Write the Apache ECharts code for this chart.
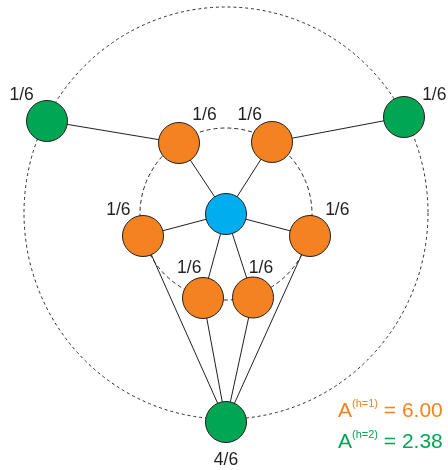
<!DOCTYPE html>
<html>
<head>
<meta charset="utf-8">
<script src="https://cdn.jsdelivr.net/npm/echarts@6/dist/echarts.min.js"></script>
<style>
  html, body { margin: 0; padding: 0; background: #ffffff; }
  #chart { width: 448px; height: 470px; }
</style>
</head>
<body>
<div id="chart"></div>
<script>
// ---- data ----
const nodeNames   = ['root', 'o1', 'o2', 'o3', 'o4', 'o5', 'o6', 'g1', 'g2', 'g3'];
const nodeX       = [0, -47, 46, -83, 84, -23, 27, -179, 178, 0];
const nodeY       = [0, 71, 72, -22, -22, -84, -83.5, 93, 97, -208];
const nodeLevel   = [0, 1, 1, 1, 1, 1, 1, 2, 2, 2];
const nodeWeights = ['', '1/6', '1/6', '1/6', '1/6', '1/6', '1/6', '1/6', '1/6', '4/6'];
const edgeSource  = ['root', 'root', 'root', 'root', 'root', 'root', 'g1', 'g2', 'g3', 'g3', 'g3', 'g3'];
const edgeTarget  = ['o1', 'o2', 'o3', 'o4', 'o5', 'o6', 'o1', 'o2', 'o3', 'o5', 'o6', 'o4'];
// rings: [cx, cy, rx, ry]
const rings       = [[0, 0, 86, 86], [0, 1, 202, 206]];
const hopLabels   = ['h=1', 'h=2'];
const hopValues   = ['6.00', '2.38'];

// ---- style ----
const levelColors = ['#00AEEF', '#F58220', '#00A651'];
const ink = '#231F20';
const font = 'Liberation Sans, Arial, Helvetica, sans-serif';
const labelOffsets = {
  o1: [25.5, -28], o2: [-22.3, -27], o3: [-24.6, -26], o4: [27.3, -25.5],
  o5: [-13.8, -30], o6: [8, -29.5], g1: [-25.4, -26.2], g2: [30.3, -22.2], g3: [0, 38]
};

const nodes = nodeNames.map((n, i) => ({
  name: n,
  value: [nodeX[i], nodeY[i]],
  itemStyle: { color: levelColors[nodeLevel[i]] },
  label: nodeWeights[i] ? {
    show: true, position: 'inside', offset: labelOffsets[n],
    formatter: nodeWeights[i]
  } : { show: false }
}));
const links = edgeSource.map((s, i) => ({ source: s, target: edgeTarget[i] }));

const chart = echarts.init(document.getElementById('chart'), null, { renderer: 'canvas' });
chart.setOption({
  backgroundColor: '#ffffff',
  animation: false,
  grid: { left: 0, right: 0, top: 0, bottom: 0 },
  xAxis: { type: 'value', min: -226, max: 222, show: false },
  yAxis: { type: 'value', min: -256, max: 214, show: false },
  series: [
    {
      type: 'custom',
      coordinateSystem: 'cartesian2d',
      z: 1,
      silent: true,
      clip: false,
      data: rings,
      encode: { x: 0, y: 1 },
      renderItem: function (params, api) {
        const c = api.coord([api.value(0), api.value(1)]);
        const s = api.size([api.value(2), api.value(3)]);
        const outer = params.dataIndex === 1;
        return {
          type: 'circle',
          x: c[0], y: c[1],
          scaleX: s[0] / s[1], scaleY: 1,
          shape: { cx: 0, cy: 0, r: s[1] },
          style: {
            fill: 'none', stroke: '#2a2a2a', lineWidth: 1,
            lineDash: outer ? [3, 3] : [4, 3]
          }
        };
      }
    },
    {
      type: 'graph',
      coordinateSystem: 'cartesian2d',
      layout: 'none',
      z: 3,
      symbol: 'circle',
      symbolSize: 41,
      roam: false,
      itemStyle: { borderColor: ink, borderWidth: 1, opacity: 1 },
      lineStyle: { color: ink, width: 1, opacity: 1, curveness: 0 },
      label: { color: ink, fontSize: 17.5, fontFamily: font },
      emphasis: { disabled: true },
      data: nodes,
      links: links
    }
  ],
  graphic: hopLabels.map((h, i) => ({
    type: 'text',
    left: 338,
    top: 398 + i * 31,
    z: 10,
    style: {
      text: '{a|A}{s|(' + h + ')}{a| = ' + hopValues[i] + '}',
      fill: levelColors[i + 1],
      font: '21px ' + font,
      rich: {
        a: { fontSize: 21, lineHeight: 27, fontFamily: font, fill: levelColors[i + 1] },
        s: { fontSize: 11, lineHeight: 11, verticalAlign: 'top', fontFamily: font, fill: levelColors[i + 1] }
      }
    }
  }))
});
</script>
</body>
</html>
